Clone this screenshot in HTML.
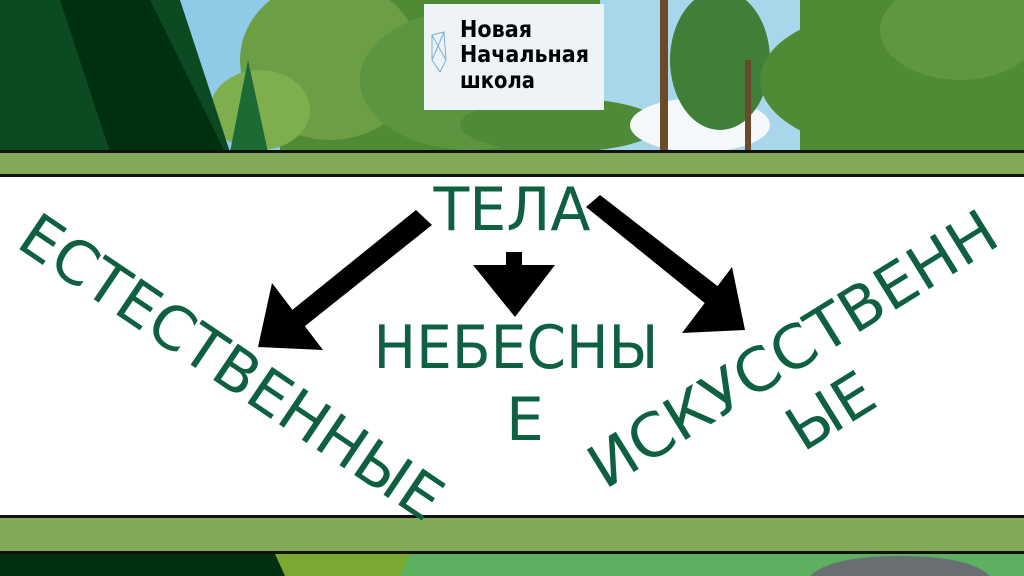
<!DOCTYPE html>
<html><head><meta charset="utf-8"><style>
html,body{margin:0;padding:0;width:1024px;height:576px;overflow:hidden;background:#fff}
svg{display:block;position:absolute;left:0;top:0}
</style></head><body>
<svg width="1024" height="576" viewBox="0 0 1024 576" xmlns="http://www.w3.org/2000/svg" overflow="hidden">
<rect x="0" y="0" width="1024" height="152" fill="#4f8a35"/>
<rect x="150" y="0" width="130" height="152" fill="#8fcbe6"/>
<rect x="600" y="0" width="200" height="152" fill="#a8d6ea"/>
<ellipse cx="330" cy="60" rx="90" ry="80" fill="#6b9e45"/>
<ellipse cx="260" cy="110" rx="50" ry="40" fill="#7fae4e"/>
<ellipse cx="470" cy="80" rx="110" ry="70" fill="#5d9440"/>
<ellipse cx="560" cy="125" rx="100" ry="27" fill="#4e8a38"/>
<ellipse cx="700" cy="125" rx="70" ry="27" fill="#f4f8fb"/>
<ellipse cx="720" cy="60" rx="50" ry="70" fill="#3f7f38"/>
<ellipse cx="900" cy="80" rx="140" ry="72" fill="#4f8a35"/>
<ellipse cx="960" cy="30" rx="80" ry="50" fill="#5f9640"/>
<rect x="660" y="0" width="8" height="150" fill="#6b4a2a"/>
<rect x="745" y="60" width="6" height="90" fill="#6b4a2a"/>
<polygon points="0,0 180,0 230,152 0,152" fill="#0c4a22"/>
<polygon points="60,0 150,0 225,152 110,152" fill="#003010"/>
<polygon points="230,152 248,60 268,152" fill="#1c6b35"/>
<rect x="424" y="4" width="180" height="106" fill="#eef3f8"/>
<g stroke="#7ab0d6" stroke-width="1" fill="none"><polygon points="432,35 444,32 446,60 440,72 432,60"/><line x1="432" y1="35" x2="446" y2="60"/><line x1="444" y1="32" x2="432" y2="60"/></g>
<g font-family="'DejaVu Sans Condensed','DejaVu Sans',sans-serif" font-size="23" fill="#000" font-weight="bold">
<text x="460" y="37" textLength="72" lengthAdjust="spacingAndGlyphs">Новая</text><text x="460" y="62" textLength="129" lengthAdjust="spacingAndGlyphs">Начальная</text><text x="460" y="88" textLength="75" lengthAdjust="spacingAndGlyphs">школа</text></g>
<rect x="0" y="150" width="1024" height="3" fill="#111"/>
<rect x="0" y="153" width="1024" height="21" fill="#83a85a"/>
<rect x="0" y="174" width="1024" height="3" fill="#111"/>
<rect x="0" y="515" width="1024" height="3" fill="#111"/>
<rect x="0" y="518" width="1024" height="33" fill="#83a85a"/>
<rect x="0" y="551" width="1024" height="3" fill="#111"/>
<rect x="0" y="554" width="1024" height="22" fill="#5cb060"/>
<rect x="0" y="554" width="290" height="22" fill="#003010"/>
<polygon points="275,554 410,554 400,576 285,576" fill="#7aa830"/>
<path d="M810,576 Q830,556 900,556 Q970,556 990,576 Z" fill="#6a6f73"/>
<polygon points="416,210 432,225 300,330 286,315" fill="#000"/>
<polygon points="272,283 323,350 258,347" fill="#000"/>
<rect x="506" y="252" width="16" height="14" fill="#000"/>
<polygon points="473,265 555,265 515,317" fill="#000"/>
<polygon points="586,207 600,195 720,288 706,304" fill="#000"/>
<polygon points="732,267 682,333 745,330" fill="#000"/>
<g font-family="'DejaVu Sans',sans-serif" fill="#0e6040" font-size="60">
<text x="512" y="230" text-anchor="middle" textLength="157" lengthAdjust="spacingAndGlyphs">ТЕЛА</text>
<text x="516" y="368" text-anchor="middle" textLength="285" lengthAdjust="spacingAndGlyphs">НЕБЕСНЫ</text>
<text x="525" y="440" text-anchor="middle">Е</text>
<g transform="translate(232,366) rotate(34)"><text x="0" y="22" text-anchor="middle" textLength="495" lengthAdjust="spacingAndGlyphs">ЕСТЕСТВЕННЫЕ</text></g>
<g transform="translate(792,348) rotate(-31.8)"><text x="0" y="22" text-anchor="middle" textLength="468" lengthAdjust="spacingAndGlyphs">ИСКУССТВЕНН</text></g>
<g transform="translate(830,410) rotate(-31.8)"><text x="0" y="22" text-anchor="middle">ЫЕ</text></g>
</g>
</svg>
</body></html>
